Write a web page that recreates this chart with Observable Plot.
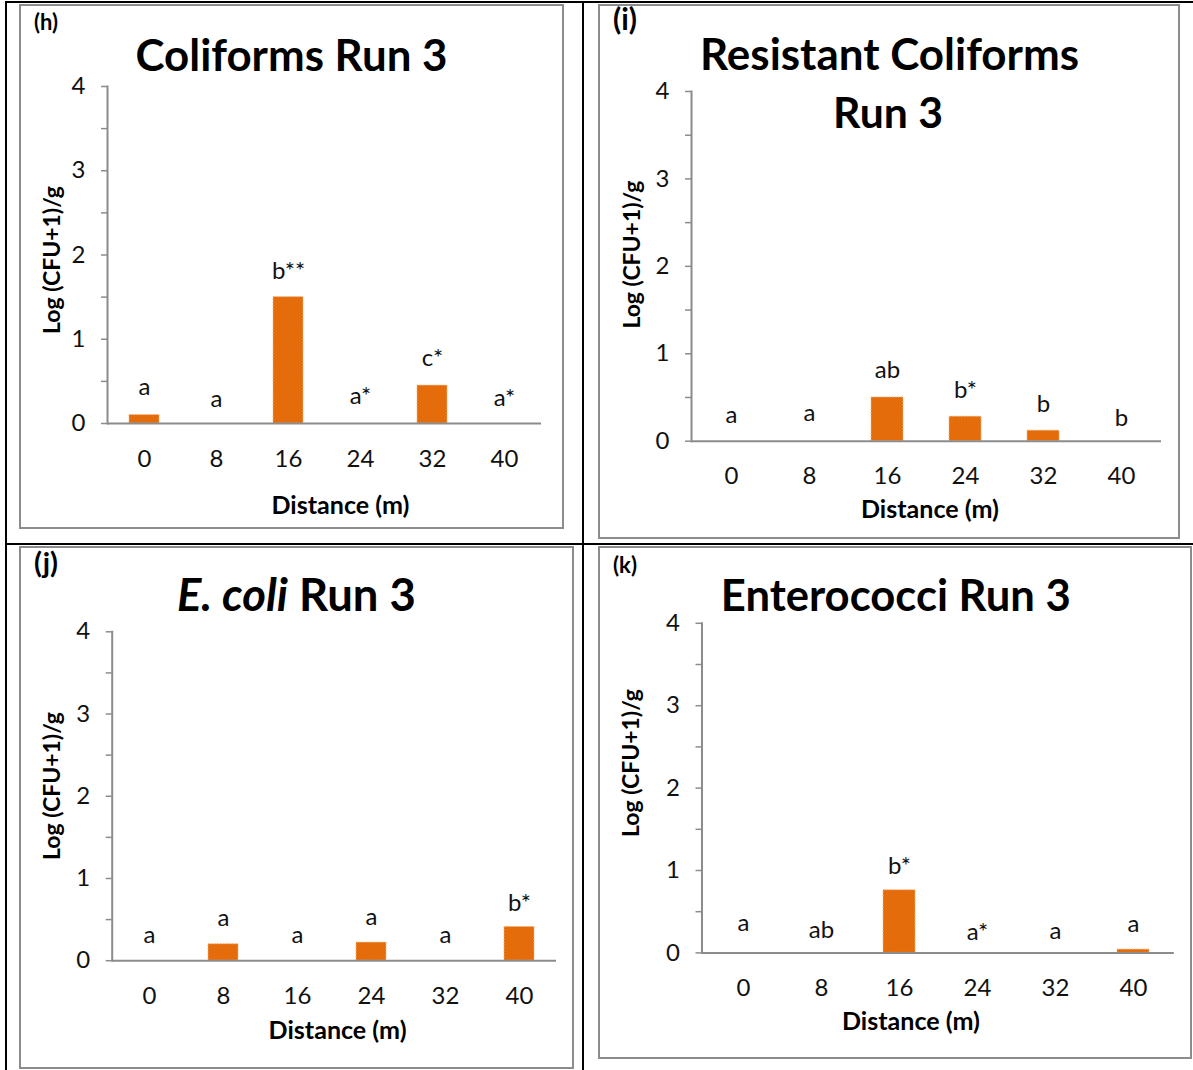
<!DOCTYPE html>
<html><head><meta charset="utf-8">
<script src="https://cdn.jsdelivr.net/npm/d3@7"></script>
<script src="https://cdn.jsdelivr.net/npm/@observablehq/plot@0.6"></script>
<style>
body{margin:0;background:#fff;}
#root{position:relative;width:1193px;height:1070px;overflow:hidden;background:#fff;font-family:Lato,sans-serif;}
.line{position:absolute;background:#000;}
.box{position:absolute;border:2px solid #8c8c8c;box-sizing:border-box;}
</style></head><body><div id="root"></div>
<script>
// ---------- data ----------
const distances = ["0","8","16","24","32","40"];
const yTicks = [0, 1, 2, 3, 4];
const yMinorTicks = [0.5, 1.5, 2.5, 3.5];

// (h) Coliforms Run 3
const coliformMeans   = [0.10, 0, 1.50, 0, 0.45, 0];
const coliformLetters = ["a", "a", "b**", "a*", "c*", "a*"];
const coliformLetterAt = [0.34, 0.20, 1.72, 0.23, 0.68, 0.21];

// (i) Resistant Coliforms Run 3
const resistantMeans   = [0, 0, 0.50, 0.28, 0.12, 0];
const resistantLetters = ["a", "a", "ab", "b*", "b", "b"];
const resistantLetterAt = [0.21, 0.23, 0.72, 0.49, 0.33, 0.17];

// (j) E. coli Run 3
const ecoliMeans   = [0, 0.20, 0, 0.22, 0, 0.41];
const ecoliLetters = ["a", "a", "a", "a", "a", "b*"];
const ecoliLetterAt = [0.22, 0.42, 0.21, 0.43, 0.21, 0.61];

// (k) Enterococci Run 3
const enteroMeans   = [0, 0, 0.76, 0, 0, 0.04];
const enteroLetters = ["a", "ab", "b*", "a*", "a", "a"];
const enteroLetterAt = [0.26, 0.18, 0.96, 0.16, 0.17, 0.25];

const yLabel = "Log (CFU+1)/g";
const xLabel = "Distance (m)";

// ---------- layout ----------
const root = document.getElementById("root");
function line(l, t, w, h) {
  const d = document.createElement("div");
  d.className = "line";
  Object.assign(d.style, {left: l + "px", top: t + "px", width: w + "px", height: h + "px"});
  root.appendChild(d);
}
line(5, 1, 1188, 2);
line(5, 1, 2, 1069);
line(582, 1, 2, 1069);
line(5, 543, 1188, 2);

const panels = [
  {id: "(h)", means: coliformMeans, letters: coliformLetters, at: coliformLetterAt,
   box: [19, 4, 564, 529], axis: [107, 541, 86, 423],
   title: [{t: "Coliforms Run 3", cx: 291.5, by: 70.6, w: 312}],
   lab: [34, 30], ytl: [60, 260], xtl: [340.5, 513.5]},
  {id: "(i)", means: resistantMeans, letters: resistantLetters, at: resistantLetterAt,
   box: [598, 4, 1180, 539], axis: [691, 1161, 91, 440.7],
   title: [{t: "Resistant Coliforms", cx: 889.6, by: 69.5, w: 379}, {t: "Run 3", cx: 888, by: 128, w: 110}],
   lab: [613, 30], ytl: [640, 254.6], xtl: [930, 517.5]},
  {id: "(j)", means: ecoliMeans, letters: ecoliLetters, at: ecoliLetterAt,
   box: [19, 546, 574, 1069], axis: [111.7, 556, 631.3, 960.2],
   title: [{t: "E. coli", it: true, t2: " Run 3", cx: 296.4, by: 611, w: 239}],
   lab: [34, 573], ytl: [60, 786], xtl: [337.6, 1038.6]},
  {id: "(k)", means: enteroMeans, letters: enteroLetters, at: enteroLetterAt,
   box: [598, 546, 1192, 1059], axis: [701.5, 1173.8, 622.8, 952.4],
   title: [{t: "Enterococci Run 3", cx: 895.8, by: 611, w: 350}],
   lab: [613, 573], ytl: [639, 763], xtl: [911, 1030]}
];

const gray = "#8c8c8c";
const fs = 24;
for (const p of panels) {
  const [bl, bt, br, bb] = p.box;
  const bx = document.createElement("div");
  bx.className = "box";
  Object.assign(bx.style, {left: bl + "px", top: bt + "px", width: (br - bl) + "px", height: (bb - bt) + "px"});
  root.appendChild(bx);

  const data = distances.map((d, i) => ({d, v: p.means[i], letter: p.letters[i], at: p.at[i]}));
  const L = bl + 2, T = bt + 2, W = br - bl - 4, H = bb - bt - 4;
  const [ax0, ax1, ayTop, ayBase] = p.axis;
  const svg = Plot.plot({
    width: W, height: H,
    marginLeft: ax0 - L, marginRight: L + W - ax1,
    marginTop: ayTop - T, marginBottom: T + H - ayBase,
    style: {background: "transparent", fontFamily: "Lato, sans-serif", fontSize: fs + "px", color: "#000", overflow: "visible"},
    x: {type: "band", domain: distances, paddingInner: 0.59, paddingOuter: 0.295},
    y: {domain: [0, 4]},
    marks: [
      Plot.barY(data, {x: "d", y: "v", fill: "#E46C0A", stroke: "#F7B27A", strokeWidth: 1, strokeDasharray: "1.5,1.5"}),
      Plot.ruleY([0], {stroke: gray, strokeWidth: 2}),
      Plot.axisY({ticks: yMinorTicks, tickSize: 6, tickFormat: () => "", label: null, stroke: gray, strokeWidth: 1.5}),
      Plot.axisY({ticks: yTicks, tickSize: 6, tickPadding: 16, tickFormat: "d", label: null, stroke: gray, strokeWidth: 1.5, fill: "#111", fontSize: fs}),
      Plot.axisX({tickSize: 0, tickPadding: 26, label: null, fill: "#111", fontSize: fs}),
      Plot.frame({anchor: "left", stroke: gray, strokeWidth: 2}),
      Plot.text(data, {x: "d", y: "at", text: "letter", lineAnchor: "bottom", fontSize: fs, fill: "#111"})
    ]
  });
  Object.assign(svg.style, {position: "absolute", left: L + "px", top: T + "px"});
  root.appendChild(svg);
}

// ---------- text overlay ----------
const NS = "http://www.w3.org/2000/svg";
const ov = document.createElementNS(NS, "svg");
ov.setAttribute("width", 1193); ov.setAttribute("height", 1070);
Object.assign(ov.style, {position: "absolute", left: "0px", top: "0px", pointerEvents: "none"});
root.appendChild(ov);
function txt(s, x, y, size, opts = {}) {
  const e = document.createElementNS(NS, "text");
  e.setAttribute("x", x); e.setAttribute("y", y);
  e.setAttribute("font-family", "Lato, sans-serif");
  e.setAttribute("font-weight", "bold");
  e.setAttribute("font-size", size);
  e.setAttribute("fill", "#000");
  if (opts.anchor) e.setAttribute("text-anchor", opts.anchor);
  if (opts.rotate) e.setAttribute("transform", `rotate(-90 ${x} ${y})`);
  e.textContent = s;
  ov.appendChild(e);
  return e;
}
function fit(e, target, base) {
  const len = e.getComputedTextLength();
  if (len > 0) e.setAttribute("font-size", (base * target / len).toFixed(2));
}
for (const p of panels) {
  const lb = txt(p.id, p.lab[0], p.lab[1], 20);
  fit(lb, 24, 20);
  for (const t of p.title) {
    let e;
    if (t.it) {
      e = document.createElementNS(NS, "text");
      e.setAttribute("x", t.cx); e.setAttribute("y", t.by);
      e.setAttribute("font-family", "Lato, sans-serif");
      e.setAttribute("font-weight", "bold");
      e.setAttribute("font-size", 44);
      e.setAttribute("text-anchor", "middle");
      const a = document.createElementNS(NS, "tspan");
      a.setAttribute("font-style", "italic"); a.textContent = t.t;
      const b = document.createElementNS(NS, "tspan");
      b.textContent = t.t2;
      e.appendChild(a); e.appendChild(b);
      ov.appendChild(e);
    } else {
      e = txt(t.t, t.cx, t.by, 44, {anchor: "middle"});
    }
    fit(e, t.w, 44);
  }
  const yl = txt(yLabel, p.ytl[0], p.ytl[1], 23, {anchor: "middle", rotate: true});
  fit(yl, 148, 23);
  const xl = txt(xLabel, p.xtl[0], p.xtl[1], 23, {anchor: "middle"});
  fit(xl, 138, 23);
}
</script></body></html>
